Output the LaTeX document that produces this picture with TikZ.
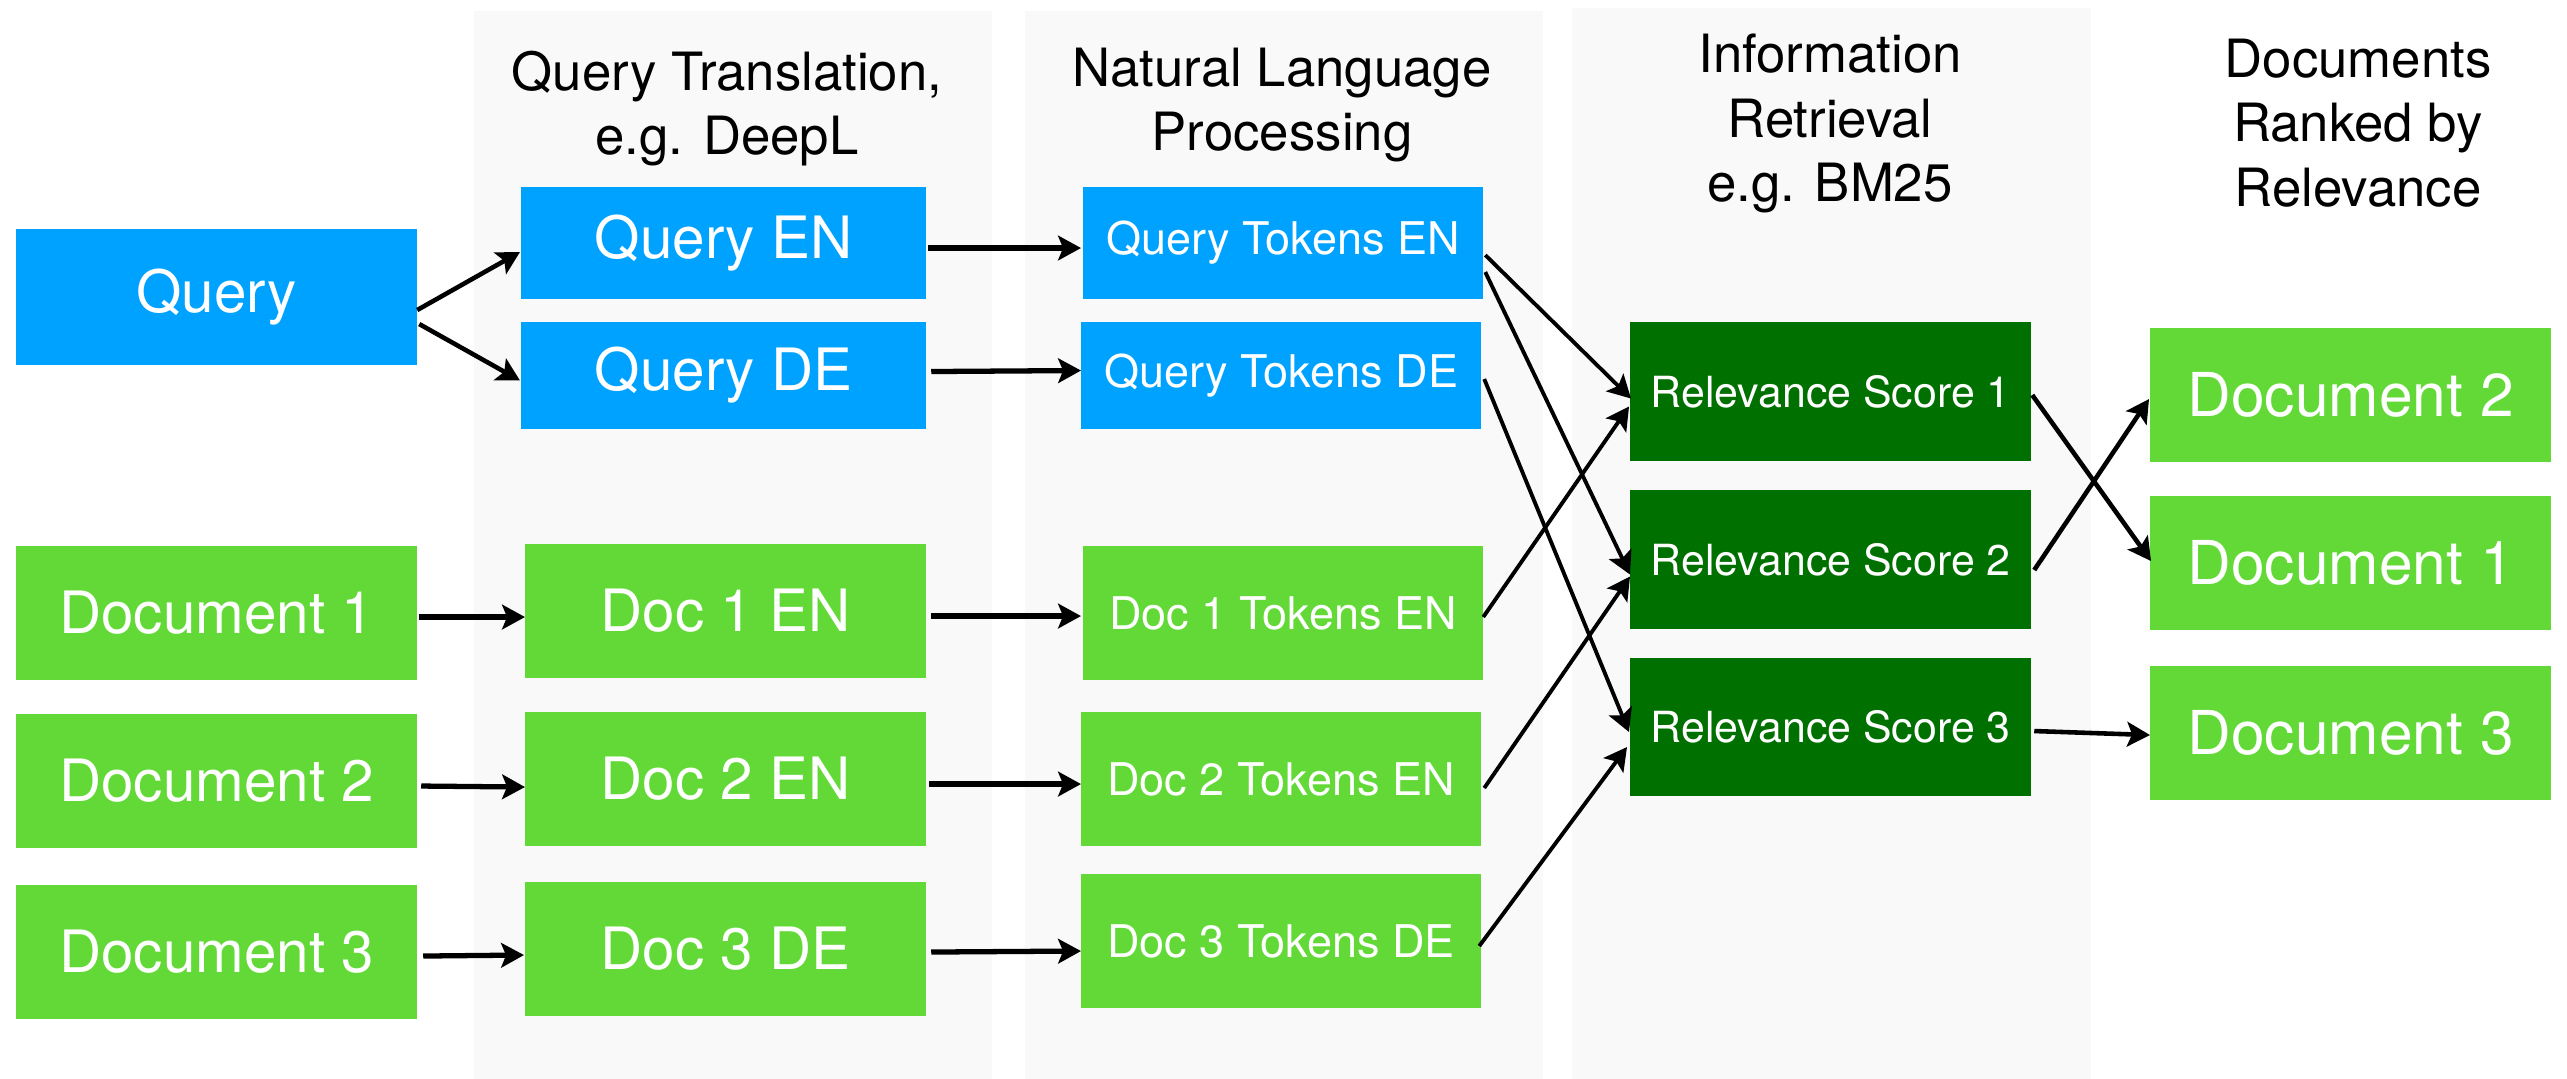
\documentclass[tikz,border=0pt]{standalone}
\usepackage{fontspec}
\setmainfont{TeX Gyre Heros}
\usetikzlibrary{arrows.meta,calc}
\definecolor{qblue}{RGB}{0,162,255}
\definecolor{lgreen}{RGB}{99,217,56}
\definecolor{dgreen}{RGB}{0,113,0}
\definecolor{colbg}{RGB}{249,249,249}
\begin{document}
\begin{tikzpicture}[x=0.01cm,y=-0.01cm,
  box/.style={inner sep=0pt,outer sep=0pt,anchor=north west,text=white,align=center},
  wide/.style={box,minimum width=4.01cm},
  bluebox/.style={wide,fill=qblue},
  greenbox/.style={wide,fill=lgreen},
  darkbox/.style={wide,fill=dgreen,font=\fontsize{12.2}{14}\selectfont},
  mainfont/.style={font=\fontsize{16.6}{20}\selectfont},
  tokfont/.style={font=\fontsize{12.8}{15}\selectfont},
  outfont/.style={font=\fontsize{17.2}{20}\selectfont},
  header/.style={inner sep=0pt,anchor=north,align=center,text=black,font=\fontsize{15}{18.4}\selectfont},
  arr/.style={line width=1.5pt,-{Stealth[length=6.5pt,width=7pt,inset=1.4pt]}},
  arrmid/.style={arr,line width=1.3pt},
  arrthin/.style={arr,line width=1.1pt}
]
\useasboundingbox (0,0) rectangle (2567,1079);
\fill[white] (0,0) rectangle (2567,1079);
% column backgrounds
\fill[colbg] (474,11) rectangle (992,1079);
\fill[colbg] (1025,11) rectangle (1543,1079);
\fill[colbg] (1572,8) rectangle (2091,1079);

% headers
\node[header] (h1) at (727,50) {Query Translation,\\e.g. DeepL};
\node[header] (h2) at (1282,47) {Natural Language\\Processing};
\node[header] (h3) at (1830,33) {Information\\Retrieval\\e.g. BM25};
\node[header] (h4) at (2358,38) {Documents\\Ranked by\\Relevance};

% left column
\node[bluebox,mainfont,minimum height=1.36cm] (q) at (16,229) {Query};
\node[greenbox,mainfont,minimum height=1.34cm] (d1) at (16,546) {Document 1};
\node[greenbox,mainfont,minimum height=1.34cm] (d2) at (16,714) {Document 2};
\node[greenbox,mainfont,minimum height=1.34cm] (d3) at (16,885) {Document 3};

% translation column
\node[bluebox,mainfont,minimum width=4.05cm,minimum height=1.12cm] (qen) at (521,187) {Query EN};
\node[bluebox,mainfont,minimum width=4.05cm,minimum height=1.07cm] (qde) at (521,322) {Query DE};
\node[greenbox,mainfont,minimum height=1.34cm] (d1en) at (525,544) {Doc 1 EN};
\node[greenbox,mainfont,minimum height=1.34cm] (d2en) at (525,712) {Doc 2 EN};
\node[greenbox,mainfont,minimum height=1.34cm] (d3de) at (525,882) {Doc 3 DE};

% NLP column
\node[bluebox,tokfont,minimum width=4.00cm,minimum height=1.12cm] (qten) at (1083,187) {Query Tokens EN};
\node[bluebox,tokfont,minimum width=4.00cm,minimum height=1.07cm] (qtde) at (1081,322) {Query Tokens DE};
\node[greenbox,tokfont,minimum width=4.00cm,minimum height=1.34cm] (d1t) at (1083,546) {Doc 1 Tokens EN};
\node[greenbox,tokfont,minimum width=4.00cm,minimum height=1.34cm] (d2t) at (1081,712) {Doc 2 Tokens EN};
\node[greenbox,tokfont,minimum width=4.00cm,minimum height=1.34cm] (d3t) at (1081,874) {Doc 3 Tokens DE};

% IR column
\node[darkbox,minimum height=1.39cm] (r1) at (1630,322) {Relevance Score 1};
\node[darkbox,minimum height=1.39cm] (r2) at (1630,490) {Relevance Score 2};
\node[darkbox,minimum height=1.38cm] (r3) at (1630,658) {Relevance Score 3};

% ranked documents
\node[greenbox,outfont,minimum height=1.34cm] (o2) at (2150,328) {Document 2};
\node[greenbox,outfont,minimum height=1.34cm] (o1) at (2150,496) {Document 1};
\node[greenbox,outfont,minimum height=1.34cm] (o3) at (2150,666) {Document 3};

% connectors
\draw[arrmid] ($(q.east)+(0,13)$) -- ($(qen.west)+(-1,9)$);
\draw[arrmid] ($(q.east)+(2,27)$) -- ($(qde.west)+(-1,5)$);
\draw[arr] ($(d1.east)+(2,4)$) -- ($(d1en.west)+(0,6)$);
\draw[arr] ($(d2.east)+(4,5)$) -- ($(d2en.west)+(0,8)$);
\draw[arr] ($(d3.east)+(6,4)$) -- ($(d3de.west)+(-1,6)$);

\draw[arr] ($(qen.east)+(2,5)$) -- ($(qten.west)+(-2,5)$);
\draw[arr] ($(qde.east)+(5,-4)$) -- ($(qtde.west)+(0,-5)$);
\draw[arr] ($(d1en.east)+(5,5)$) -- ($(d1t.west)+(-2,3)$);
\draw[arr] ($(d2en.east)+(3,5)$) -- ($(d2t.west)+(0,5)$);
\draw[arr] ($(d3de.east)+(5,3)$) -- ($(d3t.west)+(0,10)$);

\draw[arrthin] ($(qten.east)+(2,12)$) -- ($(r1.west)+(1,7)$);
\draw[arrthin] ($(qten.east)+(2,29)$) -- ($(r2.west)+(0,15)$);
\draw[arrthin] ($(qtde.east)+(3,3.5)$) -- ($(r3.west)+(-1,5)$);
\draw[arrthin] ($(d1t.east)+(0,4)$) -- ($(r1.west)+(-1,15)$);
\draw[arrthin] ($(d2t.east)+(3,9)$) -- ($(r2.west)+(0,17)$);
\draw[arrthin] ($(d3t.east)+(-2,5)$) -- ($(r3.west)+(-3,20)$);

\draw[arrmid] ($(r1.east)+(1,3.5)$) -- ($(o1.west)+(1,-2)$);
\draw[arrmid] ($(r2.east)+(3,10.5)$) -- ($(o2.west)+(-1,4)$);
\draw[arrmid] ($(r3.east)+(3,4)$) -- ($(o3.west)+(0,2)$);
\end{tikzpicture}
\end{document}
